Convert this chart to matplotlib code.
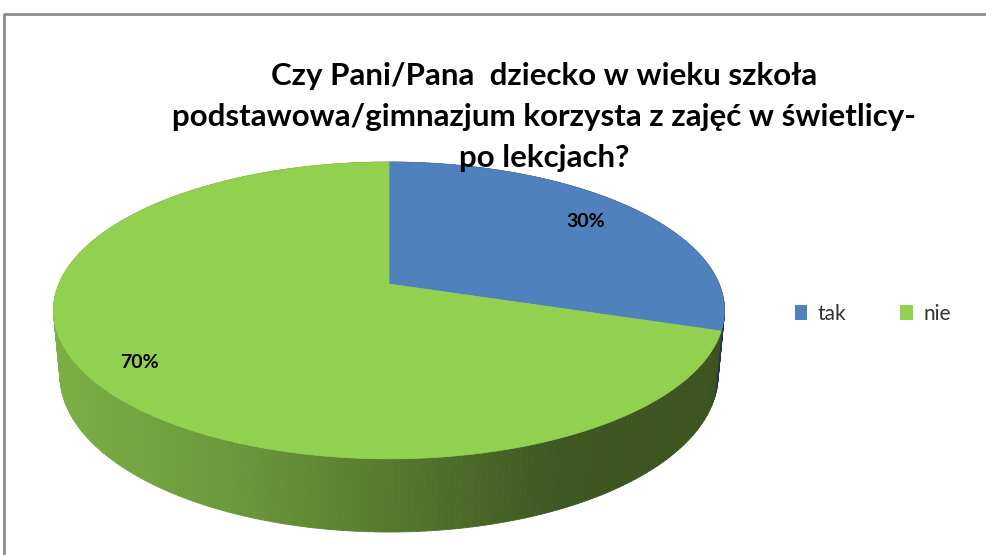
import numpy as np
import matplotlib.pyplot as plt
from matplotlib.collections import PolyCollection
from matplotlib.patches import Polygon, Patch
from matplotlib.colors import to_rgb

# data
categories = ['tak', 'nie']
values = [30, 70]
colors = ['#4F81BD', '#92D050']
title = 'Czy Pani/Pana  dziecko w wieku szkoła\npodstawowa/gimnazjum korzysta z zajęć w świetlicy-\npo lekcjach?'

# 3d view (pixel space)
W, H = 987, 555
cx, cy = 389.0, 284.0
elev = np.radians(25.8)
D = 5.05
f = 1667.0
depth = 0.218
label_r = [0.80, 0.85]


def project(X, Y, Z):
    yc = Y * np.sin(elev) + Z * np.cos(elev)
    d = Y * np.cos(elev) - Z * np.sin(elev)
    s = f / (D + d)
    return cx + X * s, cy - yc * s


def side_shade(sx):
    # light on the left, dark on the right
    return np.interp(sx, [55, 250, 560, 724], [0.84, 0.72, 0.42, 0.40])


fig = plt.figure(figsize=(W / 100, H / 100), dpi=100)
ax = fig.add_axes([0, 0, 1, 1])
ax.set_xlim(0, W)
ax.set_ylim(H, 0)
ax.axis('off')

fracs = np.array(values, dtype=float) / sum(values)
bounds = np.concatenate([[0], np.cumsum(fracs)]) * 2 * np.pi

# side wall
polys, pcols, depths = [], [], []
for i in range(len(values)):
    base = np.array(to_rgb(colors[i]))
    ts = np.linspace(bounds[i], bounds[i + 1], max(int(400 * fracs[i]), 4))
    for t0, t1 in zip(ts[:-1], ts[1:]):
        x0, y0 = np.sin(t0), np.cos(t0)
        x1, y1 = np.sin(t1), np.cos(t1)
        p = [project(x0, y0, 0), project(x1, y1, 0),
             project(x1, y1, -depth), project(x0, y0, -depth)]
        polys.append(p)
        mx = (p[0][0] + p[1][0]) / 2
        pcols.append(base * side_shade(mx))
        depths.append((y0 + y1) / 2)
order = np.argsort(depths)[::-1]
side = PolyCollection([polys[k] for k in order],
                      facecolors=[pcols[k] for k in order],
                      edgecolors=[pcols[k] for k in order], linewidths=0.6)
ax.add_collection(side)

# top face
for i in range(len(values)):
    ts = np.linspace(bounds[i], bounds[i + 1], 300)
    pts = [project(0, 0, 0)] + [project(np.sin(t), np.cos(t), 0) for t in ts]
    ax.add_patch(Polygon(pts, closed=True, facecolor=colors[i],
                         edgecolor=colors[i], linewidth=0.5))

# percent labels
for i in range(len(values)):
    mid = (bounds[i] + bounds[i + 1]) / 2
    lx, ly = project(label_r[i] * np.sin(mid), label_r[i] * np.cos(mid), 0)
    ax.text(lx, ly, f'{values[i]:.0f}%', ha='center', va='center',
            fontsize=14, fontweight='bold', family='Lato', color='black')

ax.text(544, 117, title, ha='center', va='center', multialignment='center',
        fontsize=22.5, fontweight='bold', family='Lato', color='black',
        linespacing=1.58)

handles = [Patch(facecolor=c, edgecolor='none') for c in colors]
ax.legend(handles, categories, loc='center left', ncol=2, frameon=False,
          bbox_to_anchor=(776 / W, 1 - 314 / H), handlelength=0.6,
          handleheight=0.75, handletextpad=0.5, columnspacing=2.6,
          prop={'family': 'Lato', 'size': 15}, labelcolor='#333333')

# chart frame
ax.plot([4, 4, W], [H, 14, 14], color='#8c8c8c', lw=2, solid_capstyle='butt')

fig.savefig('out.png', dpi=100)
